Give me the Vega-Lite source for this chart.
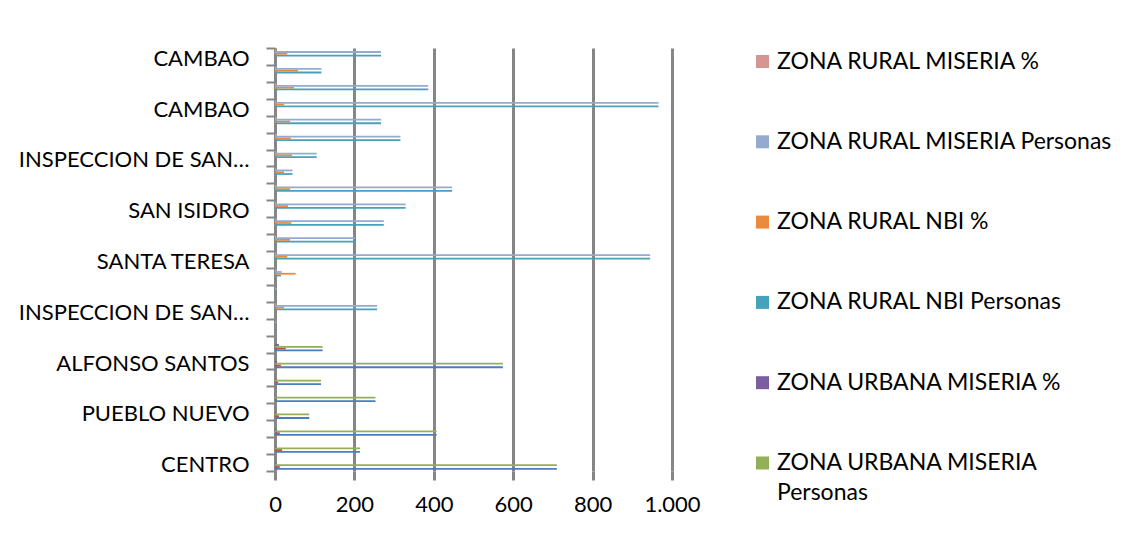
{
  "$schema": "https://vega.github.io/schema/vega-lite/v6.json",
  "autosize": "none",
  "width": 397,
  "height": 423,
  "padding": {"left": 275, "top": 48, "right": 460, "bottom": 64},
  "background": "white",
  "config": {
    "view": {"stroke": null},
    "font": "Lato",
    "style": {"guide-label": {"lineHeight": 30}}
  },
  "data": {
    "values": [
      {"id": 1, "serie": "ZONA URBANA NBI Personas", "valor": 710},
      {"id": 1, "serie": "ZONA URBANA NBI %", "valor": 12},
      {"id": 1, "serie": "ZONA URBANA MISERIA Personas", "valor": 710},
      {"id": 1, "serie": "ZONA URBANA MISERIA %", "valor": 3},
      {"id": 2, "serie": "ZONA URBANA NBI Personas", "valor": 214},
      {"id": 2, "serie": "ZONA URBANA NBI %", "valor": 18},
      {"id": 2, "serie": "ZONA URBANA MISERIA Personas", "valor": 214},
      {"id": 2, "serie": "ZONA URBANA MISERIA %", "valor": 2},
      {"id": 3, "serie": "ZONA URBANA NBI Personas", "valor": 407},
      {"id": 3, "serie": "ZONA URBANA NBI %", "valor": 12},
      {"id": 3, "serie": "ZONA URBANA MISERIA Personas", "valor": 407},
      {"id": 3, "serie": "ZONA URBANA MISERIA %", "valor": 3},
      {"id": 4, "serie": "ZONA URBANA NBI Personas", "valor": 86},
      {"id": 4, "serie": "ZONA URBANA NBI %", "valor": 10},
      {"id": 4, "serie": "ZONA URBANA MISERIA Personas", "valor": 86},
      {"id": 4, "serie": "ZONA URBANA MISERIA %", "valor": 2},
      {"id": 5, "serie": "ZONA URBANA NBI Personas", "valor": 253},
      {"id": 5, "serie": "ZONA URBANA NBI %", "valor": 4},
      {"id": 5, "serie": "ZONA URBANA MISERIA Personas", "valor": 253},
      {"id": 5, "serie": "ZONA URBANA MISERIA %", "valor": 1},
      {"id": 6, "serie": "ZONA URBANA NBI Personas", "valor": 116},
      {"id": 6, "serie": "ZONA URBANA NBI %", "valor": 8},
      {"id": 6, "serie": "ZONA URBANA MISERIA Personas", "valor": 116},
      {"id": 6, "serie": "ZONA URBANA MISERIA %", "valor": 2},
      {"id": 7, "serie": "ZONA URBANA NBI Personas", "valor": 574},
      {"id": 7, "serie": "ZONA URBANA NBI %", "valor": 15},
      {"id": 7, "serie": "ZONA URBANA MISERIA Personas", "valor": 574},
      {"id": 7, "serie": "ZONA URBANA MISERIA %", "valor": 5},
      {"id": 8, "serie": "ZONA URBANA NBI Personas", "valor": 120},
      {"id": 8, "serie": "ZONA URBANA NBI %", "valor": 27},
      {"id": 8, "serie": "ZONA URBANA MISERIA Personas", "valor": 120},
      {"id": 8, "serie": "ZONA URBANA MISERIA %", "valor": 10},
      {"id": 9, "serie": "ZONA RURAL NBI Personas", "valor": 4},
      {"id": 9, "serie": "ZONA RURAL NBI %", "valor": 0},
      {"id": 9, "serie": "ZONA RURAL MISERIA Personas", "valor": 4},
      {"id": 9, "serie": "ZONA RURAL MISERIA %", "valor": 1},
      {"id": 10, "serie": "ZONA RURAL NBI Personas", "valor": 257},
      {"id": 10, "serie": "ZONA RURAL NBI %", "valor": 23},
      {"id": 10, "serie": "ZONA RURAL MISERIA Personas", "valor": 257},
      {"id": 10, "serie": "ZONA RURAL MISERIA %", "valor": 3},
      {"id": 11, "serie": "ZONA RURAL NBI Personas", "valor": 4},
      {"id": 11, "serie": "ZONA RURAL NBI %", "valor": 0},
      {"id": 11, "serie": "ZONA RURAL MISERIA Personas", "valor": 4},
      {"id": 11, "serie": "ZONA RURAL MISERIA %", "valor": 1},
      {"id": 12, "serie": "ZONA RURAL NBI Personas", "valor": 15},
      {"id": 12, "serie": "ZONA RURAL NBI %", "valor": 52},
      {"id": 12, "serie": "ZONA RURAL MISERIA Personas", "valor": 17},
      {"id": 12, "serie": "ZONA RURAL MISERIA %", "valor": 4},
      {"id": 13, "serie": "ZONA RURAL NBI Personas", "valor": 945},
      {"id": 13, "serie": "ZONA RURAL NBI %", "valor": 31},
      {"id": 13, "serie": "ZONA RURAL MISERIA Personas", "valor": 945},
      {"id": 13, "serie": "ZONA RURAL MISERIA %", "valor": 3},
      {"id": 14, "serie": "ZONA RURAL NBI Personas", "valor": 201},
      {"id": 14, "serie": "ZONA RURAL NBI %", "valor": 38},
      {"id": 14, "serie": "ZONA RURAL MISERIA Personas", "valor": 201},
      {"id": 14, "serie": "ZONA RURAL MISERIA %", "valor": 3},
      {"id": 15, "serie": "ZONA RURAL NBI Personas", "valor": 274},
      {"id": 15, "serie": "ZONA RURAL NBI %", "valor": 41},
      {"id": 15, "serie": "ZONA RURAL MISERIA Personas", "valor": 274},
      {"id": 15, "serie": "ZONA RURAL MISERIA %", "valor": 4},
      {"id": 16, "serie": "ZONA RURAL NBI Personas", "valor": 329},
      {"id": 16, "serie": "ZONA RURAL NBI %", "valor": 33},
      {"id": 16, "serie": "ZONA RURAL MISERIA Personas", "valor": 329},
      {"id": 16, "serie": "ZONA RURAL MISERIA %", "valor": 3},
      {"id": 17, "serie": "ZONA RURAL NBI Personas", "valor": 446},
      {"id": 17, "serie": "ZONA RURAL NBI %", "valor": 38},
      {"id": 17, "serie": "ZONA RURAL MISERIA Personas", "valor": 446},
      {"id": 17, "serie": "ZONA RURAL MISERIA %", "valor": 4},
      {"id": 18, "serie": "ZONA RURAL NBI Personas", "valor": 44},
      {"id": 18, "serie": "ZONA RURAL NBI %", "valor": 23},
      {"id": 18, "serie": "ZONA RURAL MISERIA Personas", "valor": 44},
      {"id": 18, "serie": "ZONA RURAL MISERIA %", "valor": 3},
      {"id": 19, "serie": "ZONA RURAL NBI Personas", "valor": 105},
      {"id": 19, "serie": "ZONA RURAL NBI %", "valor": 43},
      {"id": 19, "serie": "ZONA RURAL MISERIA Personas", "valor": 105},
      {"id": 19, "serie": "ZONA RURAL MISERIA %", "valor": 3},
      {"id": 20, "serie": "ZONA RURAL NBI Personas", "valor": 316},
      {"id": 20, "serie": "ZONA RURAL NBI %", "valor": 40},
      {"id": 20, "serie": "ZONA RURAL MISERIA Personas", "valor": 316},
      {"id": 20, "serie": "ZONA RURAL MISERIA %", "valor": 5},
      {"id": 21, "serie": "ZONA RURAL NBI Personas", "valor": 267},
      {"id": 21, "serie": "ZONA RURAL NBI %", "valor": 38},
      {"id": 21, "serie": "ZONA RURAL MISERIA Personas", "valor": 267},
      {"id": 21, "serie": "ZONA RURAL MISERIA %", "valor": 4},
      {"id": 22, "serie": "ZONA RURAL NBI Personas", "valor": 966},
      {"id": 22, "serie": "ZONA RURAL NBI %", "valor": 23},
      {"id": 22, "serie": "ZONA RURAL MISERIA Personas", "valor": 966},
      {"id": 22, "serie": "ZONA RURAL MISERIA %", "valor": 2},
      {"id": 23, "serie": "ZONA RURAL NBI Personas", "valor": 386},
      {"id": 23, "serie": "ZONA RURAL NBI %", "valor": 48},
      {"id": 23, "serie": "ZONA RURAL MISERIA Personas", "valor": 386},
      {"id": 23, "serie": "ZONA RURAL MISERIA %", "valor": 3},
      {"id": 24, "serie": "ZONA RURAL NBI Personas", "valor": 117},
      {"id": 24, "serie": "ZONA RURAL NBI %", "valor": 58},
      {"id": 24, "serie": "ZONA RURAL MISERIA Personas", "valor": 117},
      {"id": 24, "serie": "ZONA RURAL MISERIA %", "valor": 3},
      {"id": 25, "serie": "ZONA RURAL NBI Personas", "valor": 267},
      {"id": 25, "serie": "ZONA RURAL NBI %", "valor": 31},
      {"id": 25, "serie": "ZONA RURAL MISERIA Personas", "valor": 267},
      {"id": 25, "serie": "ZONA RURAL MISERIA %", "valor": 3}
    ]
  },
  "mark": {"type": "bar"},
  "encoding": {
    "y": {
      "field": "id",
      "type": "ordinal",
      "sort": "descending",
      "scale": {"paddingInner": 0, "paddingOuter": 0},
      "axis": {
        "title": null,
        "domain": true,
        "domainColor": "#868686",
        "domainWidth": 3,
        "ticks": true,
        "tickBand": "extent",
        "tickSize": 9,
        "tickColor": "#868686",
        "tickWidth": 2,
        "grid": false,
        "labelFontSize": 22,
        "labelColor": "#000000",
        "labelPadding": 17,
        "labelOffset": 2,
        "labelLimit": 260,
        "labelExpr": "datum.value == 1 ? 'CENTRO' : datum.value == 4 ? 'PUEBLO NUEVO' : datum.value == 7 ? 'ALFONSO SANTOS' : datum.value == 10 ? 'INSPECCION DE SAN…' : datum.value == 13 ? 'SANTA TERESA' : datum.value == 16 ? 'SAN ISIDRO' : datum.value == 19 ? 'INSPECCION DE SAN…' : datum.value == 22 ? 'CAMBAO' : datum.value == 25 ? 'CAMBAO' : ''"
      }
    },
    "yOffset": {
      "field": "serie",
      "type": "nominal",
      "scale": {
        "domain": ["ZONA RURAL MISERIA %", "ZONA RURAL MISERIA Personas", "ZONA RURAL NBI %", "ZONA RURAL NBI Personas", "ZONA URBANA MISERIA %", "ZONA URBANA MISERIA Personas", "ZONA URBANA NBI %", "ZONA URBANA NBI Personas"],
        "paddingInner": 0,
        "paddingOuter": 0.75
      }
    },
    "x": {
      "field": "valor",
      "type": "quantitative",
      "scale": {"domain": [0, 1000], "nice": false},
      "axis": {
        "title": null,
        "values": [0, 200, 400, 600, 800, 1000],
        "grid": true,
        "gridColor": "#868686",
        "gridWidth": 3,
        "domain": false,
        "ticks": true,
        "tickSize": 9,
        "tickColor": "#868686",
        "tickWidth": 3,
        "labelFlush": false,
        "labelOverlap": false,
        "labelFontSize": 22,
        "labelColor": "#000000",
        "labelPadding": 14,
        "labelExpr": "datum.value == 1000 ? '1.000' : format(datum.value, 'd')"
      }
    },
    "color": {
      "field": "serie",
      "type": "nominal",
      "scale": {
        "domain": ["ZONA RURAL MISERIA %", "ZONA RURAL MISERIA Personas", "ZONA RURAL NBI %", "ZONA RURAL NBI Personas", "ZONA URBANA MISERIA %", "ZONA URBANA MISERIA Personas", "ZONA URBANA NBI %", "ZONA URBANA NBI Personas"],
        "range": ["#D49593", "#95AACF", "#E98A3E", "#46A1BA", "#7A5E9E", "#93AF57", "#BE4B48", "#4A7EBB"]
      },
      "legend": {
        "orient": "none",
        "legendX": 476,
        "legendY": 2,
        "padding": 0,
        "title": null,
        "values": ["ZONA RURAL MISERIA %", "ZONA RURAL MISERIA Personas", "ZONA RURAL NBI %", "ZONA RURAL NBI Personas", "ZONA URBANA MISERIA %", "ZONA URBANA MISERIA Personas"],
        "symbolType": "square",
        "symbolSize": 169,
        "symbolStrokeWidth": 0,
        "symbolOpacity": 1,
        "labelFontSize": 23,
        "labelColor": "#000000",
        "labelOffset": 3,
        "labelLimit": 400,
        "rowPadding": 56.3,
        "labelExpr": "datum.label == 'ZONA URBANA MISERIA Personas' ? ['ZONA URBANA MISERIA', 'Personas'] : datum.label"
      }
    }
  }
}
